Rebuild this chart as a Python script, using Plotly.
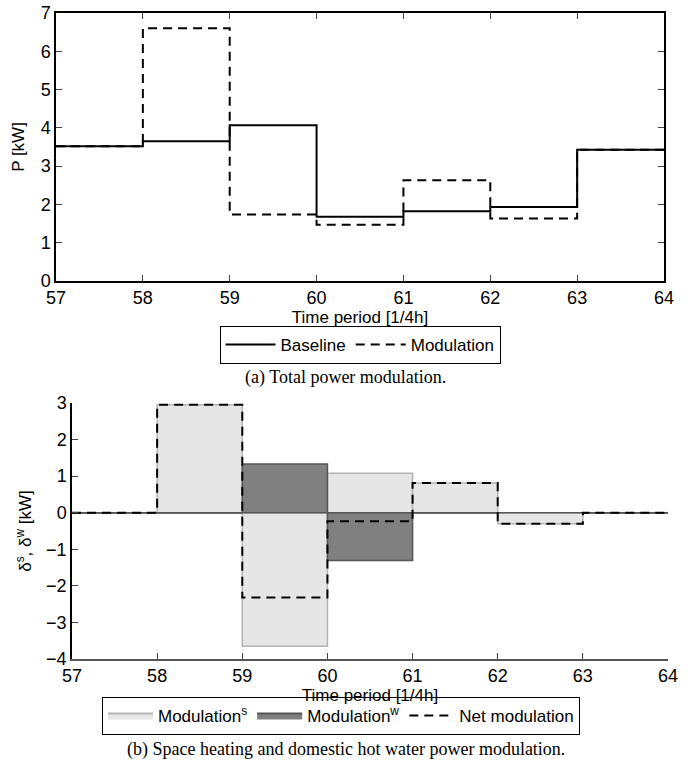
import plotly.graph_objects as go

# ---------------- data ----------------
periods = [57, 58, 59, 60, 61, 62, 63]
x_ticks = [57, 58, 59, 60, 61, 62, 63, 64]

baseline = [3.52, 3.65, 4.07, 1.68, 1.82, 1.93, 3.43]
modulation = [3.52, 6.60, 1.74, 1.47, 2.63, 1.63, 3.43]

mod_s = [0.0, 2.95, -3.65, 1.08, 0.81, -0.30, 0.0]
mod_w = [0.0, 0.0, 1.33, -1.31, 0.0, 0.0, 0.0]
net_mod = [0.0, 2.95, -2.32, -0.23, 0.81, -0.30, 0.0]

FONT = "Liberation Sans, Arial, sans-serif"
SERIF = "Liberation Serif, Times New Roman, serif"


def step_xy(vals):
    xs = periods + [periods[-1] + 1]
    ys = list(vals) + [vals[-1]]
    return xs, ys


fig = go.Figure()

# ---- top chart ----
bx, by = step_xy(baseline)
mx, my = step_xy(modulation)
fig.add_trace(go.Scatter(x=bx, y=by, mode="lines", line_shape="hv",
                         line=dict(color="black", width=2), name="Baseline",
                         xaxis="x", yaxis="y", legend="legend"))
fig.add_trace(go.Scatter(x=mx, y=my, mode="lines", line_shape="hv",
                         line=dict(color="black", width=2, dash="9px,6px"),
                         name="Modulation", xaxis="x", yaxis="y", legend="legend"))

# ---- bottom chart ----
centers = [p + 0.5 for p in periods]
fig.add_trace(go.Bar(x=centers, y=mod_s, width=1, name="Modulation<sup>s</sup>",
                     marker=dict(color="#e6e6e6", line=dict(color="#b4b4b4", width=1.5)),
                     xaxis="x2", yaxis="y2", showlegend=False))
fig.add_trace(go.Bar(x=centers, y=mod_w, width=1, name="Modulation<sup>w</sup>",
                     marker=dict(color="#808080", line=dict(color="#555555", width=1.5)),
                     xaxis="x2", yaxis="y2", showlegend=False))
# legend entries as filled patches
fig.add_trace(go.Scatter(x=[None], y=[None], mode="lines", fill="toself",
                         fillcolor="#e6e6e6", line=dict(color="#b4b4b4", width=2),
                         name="Modulation<sup>s</sup>", xaxis="x2", yaxis="y2",
                         legend="legend2"))
fig.add_trace(go.Scatter(x=[None], y=[None], mode="lines", fill="toself",
                         fillcolor="#808080", line=dict(color="#555555", width=2),
                         name="Modulation<sup>w</sup>", xaxis="x2", yaxis="y2",
                         legend="legend2"))
nx, ny = step_xy(net_mod)
fig.add_trace(go.Scatter(x=nx, y=ny, mode="lines", line_shape="hv",
                         line=dict(color="black", width=2, dash="9px,6px"),
                         name="Net modulation", xaxis="x2", yaxis="y2",
                         legend="legend2"))

tickfont = dict(family=FONT, size=18, color="black")
titlefont = dict(family=FONT, size=17, color="black")

common = dict(ticks="inside", ticklen=6, showgrid=False, automargin=False,
              tickfont=tickfont, showline=True, linewidth=1.5)

fig.update_layout(
    width=691, height=779,
    margin=dict(l=0, r=0, t=0, b=0),
    paper_bgcolor="white", plot_bgcolor="white",
    barmode="overlay",
    font=dict(family=FONT, color="black"),
    xaxis=dict(domain=[56 / 691, 664 / 691], range=[57, 64], tickvals=x_ticks,
               linecolor="black", mirror="ticks", zeroline=False, anchor="y",
               title=dict(text="Time period [1/4h]", font=titlefont, standoff=2),
               **common),
    yaxis=dict(domain=[1 - 281 / 779, 1 - 13 / 779], range=[0, 7], dtick=1,
               linecolor="black", mirror="ticks", zeroline=False, anchor="x",
               title=dict(text="P [kW]", font=titlefont, standoff=12),
               **common),
    xaxis2=dict(domain=[72 / 691, 668 / 691], range=[57, 64], tickvals=x_ticks,
                linecolor="#555555", zeroline=False, anchor="y2",
                title=dict(text="Time period [1/4h]", font=titlefont, standoff=2),
                **common),
    yaxis2=dict(domain=[1 - 659 / 779, 1 - 403 / 779], range=[-4, 3], dtick=1,
                linecolor="black", zeroline=True,
                zerolinecolor="#444444", zerolinewidth=2, anchor="x2",
                title=dict(text="δ<sup>s</sup>, δ<sup>w</sup> [kW]", font=titlefont,
                           standoff=10),
                **common),
    legend=dict(orientation="h", x=360 / 691, xanchor="center",
                y=1 - 326 / 779, yanchor="top", bordercolor="black",
                borderwidth=1, bgcolor="white", font=titlefont,
                itemwidth=50, tracegroupgap=0),
    legend2=dict(orientation="h", x=341 / 691, xanchor="center",
                 y=1 - 697 / 779, yanchor="top", bordercolor="black",
                 borderwidth=1, bgcolor="white", font=titlefont,
                 itemwidth=45, tracegroupgap=0),
    annotations=[
        dict(text="(a) Total power modulation.", x=0.5, y=1 - 377 / 779,
             xref="paper", yref="paper", showarrow=False,
             font=dict(family=SERIF, size=18, color="black")),
        dict(text="(b) Space heating and domestic hot water power modulation.",
             x=0.5, y=1 - 762 / 779, xref="paper", yref="paper", showarrow=False,
             font=dict(family=SERIF, size=18, color="black")),
    ],
)

fig.write_html("out.html",
               config={"displayModeBar": False},
               post_script="document.body.style.margin='0';"
                           "document.body.style.padding='0';")
